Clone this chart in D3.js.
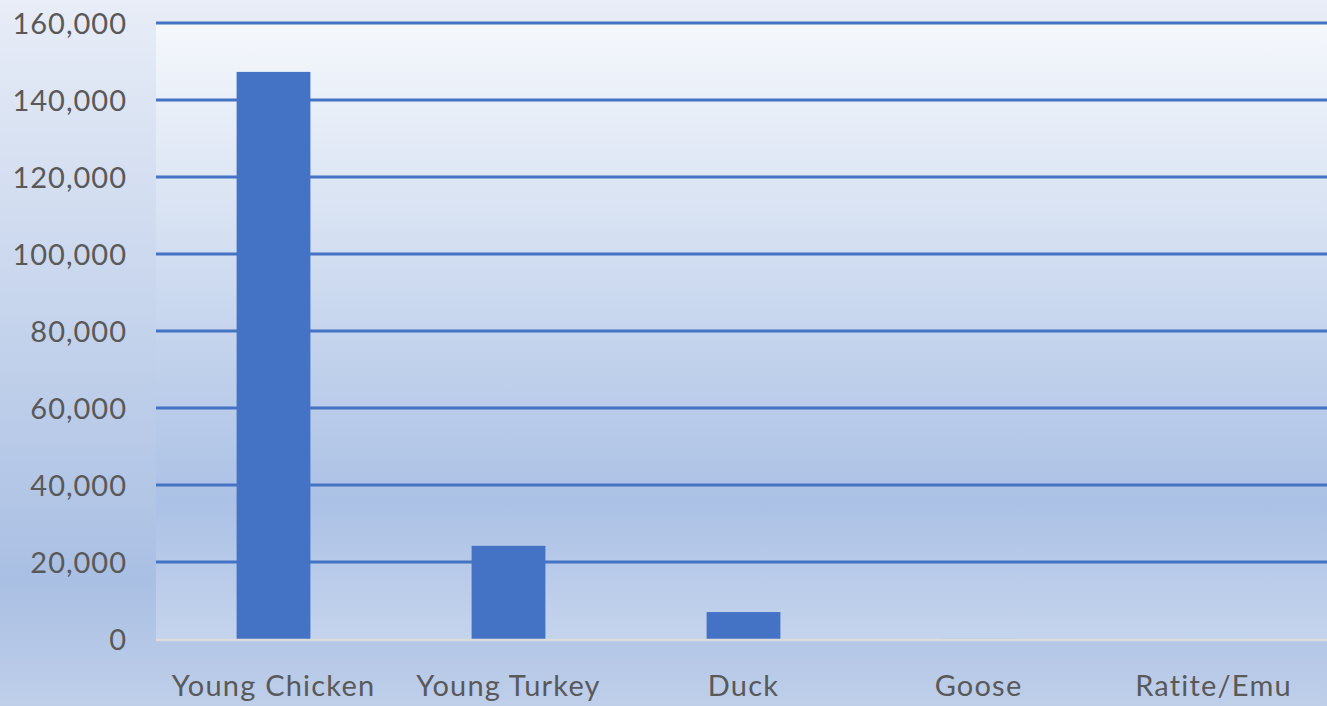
<!DOCTYPE html>
<html>
<head>
<meta charset="utf-8">
<script src="https://cdn.jsdelivr.net/npm/d3@7.9.0/dist/d3.min.js"></script>
<style>
  html, body { margin: 0; padding: 0; overflow: hidden; }
  svg { display: block; }
</style>
</head>
<body>
<div id="viz"></div>
<script>
const categories = ["Young Chicken", "Young Turkey", "Duck", "Goose", "Ratite/Emu"];
const values = [147300, 24200, 7000, 20, 5];
const yTicks = [0, 20000, 40000, 60000, 80000, 100000, 120000, 140000, 160000];

const width = 1327, height = 706;
const margin = { top: 23, right: -4, bottom: 67, left: 156 };

const svg = d3.select("#viz").append("svg")
  .attr("width", width)
  .attr("height", height);

const defs = svg.append("defs");

// outer chart background
const bgGrad = defs.append("linearGradient")
  .attr("id", "bgGrad").attr("x1", 0).attr("y1", 0).attr("x2", 0).attr("y2", 1);
bgGrad.append("stop").attr("offset", "0%").attr("stop-color", "#e8edf7");
bgGrad.append("stop").attr("offset", "82%").attr("stop-color", "#a9bfe3");
bgGrad.append("stop").attr("offset", "100%").attr("stop-color", "#bfcfea");

// plot area background
const plotGrad = defs.append("linearGradient")
  .attr("id", "plotGrad").attr("x1", 0).attr("y1", 0).attr("x2", 0).attr("y2", 1);
plotGrad.append("stop").attr("offset", "0%").attr("stop-color", "#f5f8fc");
plotGrad.append("stop").attr("offset", "78%").attr("stop-color", "#abc1e5");
plotGrad.append("stop").attr("offset", "100%").attr("stop-color", "#c5d4ed");

svg.append("rect")
  .attr("width", width).attr("height", height)
  .attr("fill", "url(#bgGrad)");

const x = d3.scaleBand()
  .domain(categories)
  .range([margin.left, width - margin.right])
  .paddingInner(0.686)
  .paddingOuter(0.343);

const y = d3.scaleLinear()
  .domain([0, 160000])
  .range([height - margin.bottom, margin.top]);

svg.append("rect")
  .attr("x", margin.left)
  .attr("y", y(160000))
  .attr("width", width - margin.left)
  .attr("height", y(0) - y(160000))
  .attr("fill", "url(#plotGrad)");

// gridlines
svg.append("g")
  .selectAll("line")
  .data(yTicks.filter(d => d > 0))
  .join("line")
  .attr("x1", margin.left)
  .attr("x2", width)
  .attr("y1", d => y(d))
  .attr("y2", d => y(d))
  .attr("stroke", "#4472c4")
  .attr("stroke-width", 3);

// bars
svg.append("g")
  .selectAll("rect")
  .data(values)
  .join("rect")
  .attr("x", (d, i) => x(categories[i]))
  .attr("y", d => y(d))
  .attr("width", x.bandwidth())
  .attr("height", d => y(0) - y(d))
  .attr("fill", "#4472c4");

// baseline
svg.append("line")
  .attr("x1", margin.left)
  .attr("x2", width)
  .attr("y1", y(0) + 1)
  .attr("y2", y(0) + 1)
  .attr("stroke", "#dcdcdc")
  .attr("stroke-width", 2.5);

// y axis labels
const yAxis = svg.append("g")
  .attr("transform", `translate(${margin.left - 29},0)`)
  .call(d3.axisLeft(y).tickValues(yTicks).tickFormat(d3.format(",")).tickSize(0).tickPadding(0));
yAxis.select(".domain").remove();
yAxis.selectAll("text")
  .attr("fill", "#595959")
  .attr("dy", "0.36em")
  .style("font-family", "Lato, 'Open Sans', sans-serif")
  .style("font-size", "29px")
  .style("letter-spacing", "1px");

// x axis labels
const xAxis = svg.append("g")
  .attr("transform", `translate(0,${y(0)})`)
  .call(d3.axisBottom(x).tickSize(0).tickPadding(0));
xAxis.select(".domain").remove();
xAxis.selectAll("text")
  .attr("dy", "1.95em")
  .attr("fill", "#595959")
  .style("font-family", "Lato, 'Open Sans', sans-serif")
  .style("font-size", "29px")
  .style("letter-spacing", "1.2px");
</script>
</body>
</html>
